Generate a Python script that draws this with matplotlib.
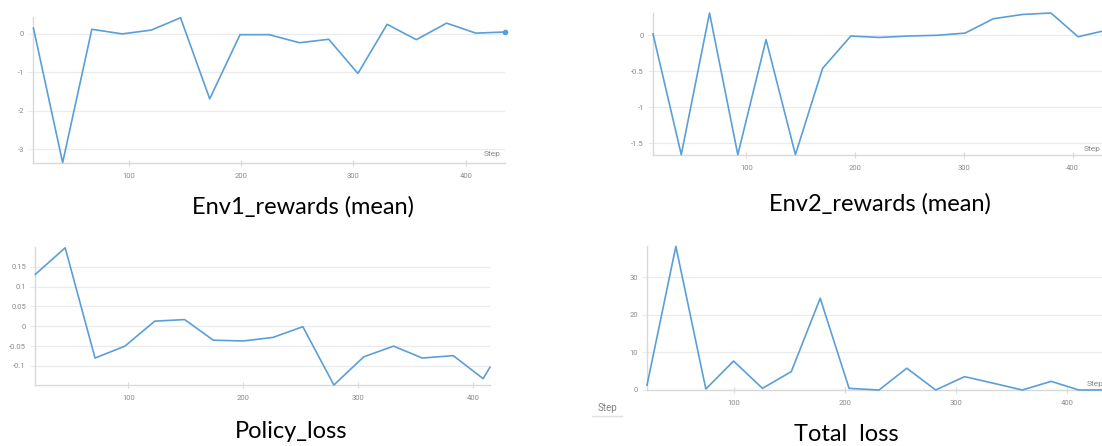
import matplotlib
matplotlib.use('Agg')
import matplotlib.pyplot as plt

plt.rcParams['axes.unicode_minus'] = False

# Env1 rewards (mean)
env1_steps = [15, 41, 67, 94, 120, 146, 172, 199, 225, 252, 278, 304, 330, 356, 383, 409, 435]
env1_rewards = [0.15, -3.35, 0.12, 0.0, 0.1, 0.42, -1.69, -0.02, -0.02, -0.23, -0.14, -1.03,
                0.25, -0.15, 0.28, 0.02, 0.05]

# Env2 rewards (mean)
env2_steps = [14, 40, 66, 92, 118, 145, 170, 196, 222, 249, 275, 301, 327, 354, 380, 405, 431]
env2_rewards = [0.02, -1.66, 0.31, -1.66, -0.06, -1.66, -0.46, -0.01, -0.03, -0.01, 0.0, 0.03,
                0.23, 0.29, 0.31, -0.02, 0.07]

# Policy loss
policy_steps = [19, 45, 71, 97, 123, 149, 174, 200, 226, 252, 279, 305, 331, 356, 383, 409, 415]
policy_loss = [0.131, 0.198, -0.08, -0.05, 0.013, 0.017, -0.035, -0.037, -0.028, -0.001,
               -0.148, -0.077, -0.05, -0.08, -0.074, -0.132, -0.103]

# Total loss
total_steps = [22, 48, 75, 100, 126, 152, 178, 204, 231, 256, 282, 308, 334, 360, 386, 411, 437]
total_loss = [1.3, 38.2, 0.27, 7.7, 0.44, 4.9, 24.4, 0.44, 0.0, 5.8, 0.0, 3.55, 1.8, 0.0, 2.3, 0.0, 0.0]

x_ticks = [100, 200, 300, 400]

W, H = 1102, 446
fig = plt.figure(figsize=(W / 100, H / 100), dpi=100)
fig.patch.set_facecolor('white')

line_color = '#5a9fd8'
grid_color = '#ebebeb'
axis_color = '#d9d9d9'
tick_color = '#8a8a8a'


def panel(left, top, right, bottom, steps, values, xlim, ylim, yticks, ylabels, last_dot=False):
    ax = fig.add_axes([left / W, (H - bottom) / H, (right - left) / W, (bottom - top) / H])
    ax.plot(steps, values, color=line_color, lw=1.2, clip_on=False, zorder=3)
    if last_dot:
        ax.plot(steps[-1], values[-1], 'o', color=line_color, ms=3, zorder=4, clip_on=False)
    ax.set_xlim(*xlim)
    ax.set_ylim(*ylim)
    ax.set_xticks(x_ticks)
    ax.set_xticklabels([str(t) for t in x_ticks])
    ax.set_yticks(yticks)
    ax.set_yticklabels(ylabels)
    for s in ['top', 'right']:
        ax.spines[s].set_visible(False)
    for s in ['left', 'bottom']:
        ax.spines[s].set_color(axis_color)
        ax.spines[s].set_linewidth(1.0)
    ax.grid(axis='y', color=grid_color, lw=0.9)
    ax.set_axisbelow(True)
    ax.tick_params(axis='x', direction='inout', length=4, width=0.8, color=axis_color,
                   labelsize=5.5, labelcolor=tick_color, pad=5)
    ax.tick_params(axis='y', direction='out', length=3.5, width=0.8, color=grid_color,
                   labelsize=5.5, labelcolor=tick_color, pad=3)
    for lab in ax.get_xticklabels() + ax.get_yticklabels():
        lab.set_fontfamily('Roboto')
    return ax


ax1 = panel(33, 17, 505, 163, env1_steps, env1_rewards, (14.6, 435), (-3.36, 0.44),
            [0, -1, -2, -3], ['0', '-1', '-2', '-3'], last_dot=True)
ax1.text(0.99, 0.04, 'Step', transform=ax1.transAxes, ha='right', va='bottom',
         fontsize=6, color=tick_color, family='Roboto')

ax2 = panel(653, 13, 1102, 155, env2_steps, env2_rewards, (14, 427), (-1.665, 0.31),
            [0, -0.5, -1, -1.5], ['0', '-0.5', '-1', '-1.5'])
fig.text(1084 / W, (H - 149) / H, 'Step', ha='left', va='center',
         fontsize=6, color=tick_color, family='Roboto')

ax3 = panel(35, 247, 490, 385, policy_steps, policy_loss, (18.7, 415), (-0.148, 0.2),
            [0.15, 0.1, 0.05, 0, -0.05, -0.1], ['0.15', '0.1', '0.05', '0', '-0.05', '-0.1'])

ax4 = panel(647, 246, 1102, 390, total_steps, total_loss, (22, 431.8), (0, 38.3),
            [0, 10, 20, 30], ['0', '10', '20', '30'])
fig.text(1087 / W, (H - 384) / H, 'Step', ha='left', va='center',
         fontsize=6, color=tick_color, family='Roboto')

# the little "Step" box under the last chart
fig.text(607 / W, (H - 408) / H, 'Step', ha='center', va='center',
         fontsize=7, color='#808080', family='Roboto')
fig.add_artist(plt.Line2D([592 / W, 622 / W], [(H - 416) / H] * 2, color='#e0e0e0', lw=1))

# captions under each chart
cap = dict(ha='center', va='baseline', fontsize=17, color='black', family='Lato')
fig.text(303 / W, (H - 214) / H, 'Env1_rewards (mean)', **cap)
fig.text(880 / W, (H - 211) / H, 'Env2_rewards (mean)', **cap)
fig.text(291 / W, (H - 438) / H, 'Policy_loss', **cap)
fig.text(846 / W, (H - 441) / H, 'Total  loss', **cap)

fig.savefig('out.png', dpi=100, facecolor='white')
